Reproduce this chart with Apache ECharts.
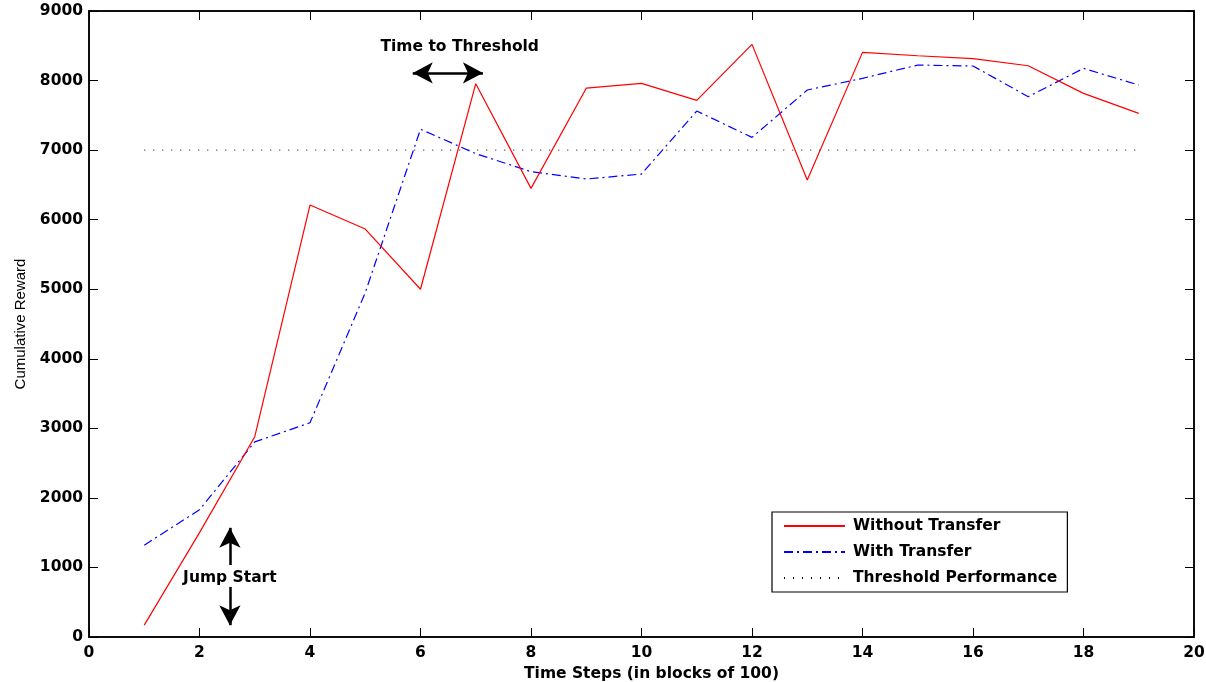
<!DOCTYPE html>
<html>
<head>
<meta charset="utf-8">
<script src="https://cdn.jsdelivr.net/npm/echarts@6/dist/echarts.min.js"></script>
<style>html,body{margin:0;padding:0;background:#fff;overflow:hidden;width:100%;height:100%}#c{position:absolute;left:0;top:0;width:1206px;height:682px}</style>
</head>
<body>
<div id="c"></div>
<script>
var steps = [1,2,3,4,5,6,7,8,9,10,11,12,13,14,15,16,17,18,19];
var withoutTransfer = [170,1500,2880,6210,5865,5000,7955,6450,7890,7960,7715,8520,6570,8405,8357,8314,8213,7816,7529];
var withTransfer = [1320,1830,2805,3080,4950,7300,6950,6690,6584,6656,7562,7183,7864,8032,8223,8209,7768,8175,7936];
var thresholdX = [1,19];
var thresholdValue = 7000;
var xTicks = {min:0, max:20, interval:2};
var yTicks = {min:0, max:9000, interval:1000};
var timeArrow = {from:[5.86,8110], to:[7.13,8110], label:'Time to Threshold', labelAt:[6.71,8480]};
var jumpArrowUp = {from:[2.55,1035], to:[2.55,1570]};
var jumpArrowDown = {from:[2.55,720], to:[2.55,170]};
var jumpLabel = {text:'Jump Start', at:[2.55,850]};

var BOLD = 'DejaVu Sans';
var chart = echarts.init(document.getElementById('c'), null, {renderer:'canvas', width:1206, height:682});

function pairs(xs, ys){ return xs.map(function(x,i){return [x, ys[i]];}); }

function axisLine(){ return {show:true, onZero:false, lineStyle:{color:'#000', width:1.5}}; }
function tickStyle(){ return {show:true, inside:true, length:9, lineStyle:{color:'#000', width:1}}; }
var labelStyle = {color:'#000', fontFamily:BOLD, fontWeight:'bold', fontSize:15.5, formatter:function(v){return String(v);}};

var option = {
  animation:false,
  backgroundColor:'#fff',
  grid:{left:89, right:12, top:11, bottom:45, containLabel:false, outerBoundsMode:'none',
        show:true, borderColor:'#000', borderWidth:1.5, backgroundColor:'transparent'},
  xAxis:[{
    type:'value', min:xTicks.min, max:xTicks.max, interval:xTicks.interval,
    axisLine:axisLine(), axisTick:tickStyle(), splitLine:{show:false},
    axisLabel:Object.assign({margin:8}, labelStyle),
    name:'Time Steps (in blocks of 100)', nameLocation:'middle', nameGap:26,
    nameTextStyle:{color:'#000', fontFamily:BOLD, fontWeight:'bold', fontSize:15.5, padding:[0,0,0,20]}
  },{
    type:'value', position:'top', gridIndex:0, min:xTicks.min, max:xTicks.max, interval:xTicks.interval,
    axisLine:axisLine(), axisTick:tickStyle(), axisLabel:{show:false}, splitLine:{show:false}
  }],
  yAxis:[{
    type:'value', min:yTicks.min, max:yTicks.max, interval:yTicks.interval,
    axisLine:axisLine(), axisTick:tickStyle(), splitLine:{show:false},
    axisLabel:Object.assign({margin:6}, labelStyle),
    name:'Cumulative Reward', nameLocation:'middle', nameGap:61, nameRotate:90,
    nameTextStyle:{color:'#000', fontFamily:'Liberation Sans', fontSize:15}
  },{
    type:'value', position:'right', gridIndex:0, min:yTicks.min, max:yTicks.max, interval:yTicks.interval,
    axisLine:axisLine(), axisTick:tickStyle(), axisLabel:{show:false}, splitLine:{show:false}
  }],
  legend:{
    orient:'vertical', left:772, top:512,
    padding:[6,10,6,11], itemGap:10, itemWidth:61, itemHeight:14,
    borderColor:'#000', borderWidth:1.2, backgroundColor:'#fff',
    itemStyle:{color:'transparent', borderWidth:0, opacity:0},
    textStyle:{color:'#000', fontFamily:BOLD, fontWeight:'bold', fontSize:15.5, padding:[0,0,0,3]},
    data:['Without Transfer','With Transfer','Threshold Performance']
  },
  series:[
    {
      name:'Threshold Performance', type:'line', symbol:'none',
      data:pairs(thresholdX, thresholdX.map(function(){return thresholdValue;})),
      lineStyle:{color:'#000', width:1, type:[1,8]},
      itemStyle:{color:'#000'},
      markLine:{
        silent:true, symbol:['none','arrow'], symbolSize:[16,20],
        label:{show:false},
        lineStyle:{color:'#000', width:2.5, type:'solid'},
        data:[
          [{coord:timeArrow.from, symbol:'arrow'},{coord:timeArrow.to, symbol:'arrow'}],
          [{coord:jumpArrowUp.from},{coord:jumpArrowUp.to}],
          [{coord:jumpArrowDown.from},{coord:jumpArrowDown.to}]
        ]
      },
      z:1
    },
    {
      name:'Without Transfer', type:'line', symbol:'none',
      data:pairs(steps, withoutTransfer),
      lineStyle:{color:'#ff0000', width:1.2}, itemStyle:{color:'#ff0000'}, z:3
    },
    {
      name:'With Transfer', type:'line', symbol:'none',
      data:pairs(steps, withTransfer),
      lineStyle:{color:'#0000ff', width:1.2, type:[9,4,2,4]}, itemStyle:{color:'#0000ff'}, z:2
    },
    {
      name:'_frame', type:'line', xAxisIndex:1, yAxisIndex:1, symbol:'none', silent:true,
      data:[], lineStyle:{opacity:0}
    }
  ]
};
chart.setOption(option);

var p1 = chart.convertToPixel({gridIndex:0}, timeArrow.labelAt);
var p2 = chart.convertToPixel({gridIndex:0}, jumpLabel.at);
chart.setOption({
  graphic:[
    {type:'text', x:p1[0], y:p1[1], z:10, style:{text:timeArrow.label, fill:'#000', font:'bold 15.5px "DejaVu Sans"', align:'center', verticalAlign:'middle'}},
    {type:'text', x:p2[0], y:p2[1], z:10, style:{text:jumpLabel.text, fill:'#000', font:'bold 15.5px "DejaVu Sans"', align:'center', verticalAlign:'middle'}}
  ]
});
</script>
</body>
</html>
